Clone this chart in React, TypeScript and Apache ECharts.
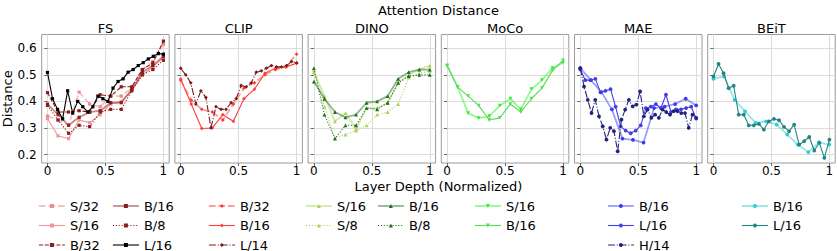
import React, { useEffect, useRef } from 'react';
import * as echarts from 'echarts';

// ---------- data ----------
const panelTitles = ['FS', 'CLIP', 'DINO', 'MoCo', 'MAE', 'BEiT'];
const xTicks = [0, 0.5, 1];
const yTicks = [0.2, 0.3, 0.4, 0.5, 0.6];

const fsS32 = [0.345, 0.33, 0.31, 0.435, 0.39, 0.38, 0.42, 0.42, 0.45, 0.52, 0.55, 0.615];
const fsS16 = [0.335, 0.27, 0.26, 0.33, 0.32, 0.35, 0.39, 0.40, 0.44, 0.50, 0.53, 0.565];
const fsB32 = [0.433, 0.36, 0.36, 0.365, 0.36, 0.425, 0.42, 0.455, 0.455, 0.52, 0.545, 0.627];
const fsB16 = [0.39, 0.35, 0.31, 0.34, 0.36, 0.365, 0.395, 0.395, 0.445, 0.51, 0.535, 0.57];
const fsB8 = [0.385, 0.33, 0.28, 0.31, 0.305, 0.36, 0.37, 0.37, 0.44, 0.50, 0.52, 0.555];
const fsL16 = [0.509, 0.41, 0.37, 0.334, 0.44, 0.356, 0.40, 0.38, 0.36, 0.38, 0.42, 0.41, 0.40, 0.45, 0.475, 0.485, 0.51, 0.52, 0.535, 0.546, 0.56, 0.57, 0.58, 0.578];

const clipB32 = [0.48, 0.405, 0.37, 0.36, 0.33, 0.39, 0.45, 0.47, 0.50, 0.52, 0.53, 0.578];
const clipB16 = [0.484, 0.39, 0.298, 0.30, 0.35, 0.325, 0.41, 0.446, 0.506, 0.525, 0.53, 0.544];
const clipL14 = [0.525, 0.50, 0.47, 0.39, 0.44, 0.415, 0.30, 0.38, 0.37, 0.37, 0.395, 0.41, 0.46, 0.455, 0.47, 0.51, 0.515, 0.525, 0.535, 0.53, 0.53, 0.535, 0.55, 0.545];

const dinoS16 = [0.51, 0.42, 0.325, 0.356, 0.296, 0.375, 0.375, 0.394, 0.47, 0.50, 0.52, 0.535];
const dinoS8 = [0.52, 0.38, 0.262, 0.275, 0.29, 0.31, 0.35, 0.36, 0.39, 0.49, 0.505, 0.515];
const dinoB16 = [0.475, 0.41, 0.36, 0.34, 0.35, 0.395, 0.40, 0.42, 0.485, 0.51, 0.52, 0.52];
const dinoB8 = [0.525, 0.35, 0.26, 0.31, 0.31, 0.375, 0.37, 0.395, 0.47, 0.495, 0.50, 0.50];

const mocoS16 = [0.535, 0.454, 0.356, 0.337, 0.344, 0.384, 0.41, 0.37, 0.446, 0.48, 0.525, 0.546];
const mocoB16 = [0.535, 0.454, 0.42, 0.384, 0.33, 0.338, 0.39, 0.36, 0.41, 0.45, 0.516, 0.554];

const maeB16 = [0.525, 0.48, 0.435, 0.37, 0.26, 0.255, 0.245, 0.375, 0.38, 0.39, 0.41, 0.385];
const maeL16 = [0.52, 0.48, 0.48, 0.485, 0.434, 0.44, 0.446, 0.38, 0.306, 0.29, 0.28, 0.29, 0.31, 0.375, 0.38, 0.39, 0.375, 0.425, 0.36, 0.37, 0.37, 0.375, 0.38, 0.335];
const maeH14 = [0.525, 0.456, 0.406, 0.356, 0.406, 0.344, 0.306, 0.256, 0.30, 0.288, 0.212, 0.331, 0.369, 0.406, 0.381, 0.388, 0.4375, 0.344, 0.369, 0.338, 0.35, 0.338, 0.369, 0.36, 0.35, 0.363, 0.363, 0.356, 0.356, 0.30, 0.35, 0.338];

const beitB16 = [0.485, 0.494, 0.406, 0.3625, 0.319, 0.325, 0.3125, 0.275, 0.2375, 0.209, 0.246, 0.2375];
const beitL16 = [0.494, 0.541, 0.506, 0.45, 0.459, 0.35, 0.35, 0.31, 0.31, 0.315, 0.294, 0.325, 0.334, 0.329, 0.304, 0.2875, 0.3125, 0.2375, 0.25, 0.266, 0.215, 0.244, 0.1875, 0.256];

// ---------- styles ----------
type Dash = 'solid' | 'dashed' | 'dotted' | 'dashdot';
type SeriesDef = {
  panel: number; label: string; data: number[]; color: string; dash: Dash;
  alpha?: boolean; symbol: string; rotate?: number;
};

const seriesDefs: SeriesDef[] = [
  { panel: 0, label: 'S/32', data: fsS32, color: '#f08a8a', dash: 'dashed', alpha: true, symbol: 'rect' },
  { panel: 0, label: 'S/16', data: fsS16, color: '#f49494', dash: 'solid', symbol: 'rect' },
  { panel: 0, label: 'B/32', data: fsB32, color: '#8e1b1b', dash: 'dashed', symbol: 'rect' },
  { panel: 0, label: 'B/16', data: fsB16, color: '#8e1b1b', dash: 'solid', alpha: true, symbol: 'rect' },
  { panel: 0, label: 'B/8', data: fsB8, color: '#8e1b1b', dash: 'dotted', symbol: 'rect' },
  { panel: 0, label: 'L/16', data: fsL16, color: '#000000', dash: 'solid', symbol: 'rect' },

  { panel: 1, label: 'B/32', data: clipB32, color: '#ff3a3a', dash: 'dashed', alpha: true, symbol: 'diamond' },
  { panel: 1, label: 'B/16', data: clipB16, color: '#ff3f3f', dash: 'solid', symbol: 'diamond' },
  { panel: 1, label: 'L/14', data: clipL14, color: '#7a1c1c', dash: 'dashdot', symbol: 'diamond' },

  { panel: 2, label: 'S/16', data: dinoS16, color: '#a8d45a', dash: 'solid', alpha: true, symbol: 'triangle' },
  { panel: 2, label: 'S/8', data: dinoS8, color: '#a8d45a', dash: 'dotted', symbol: 'triangle' },
  { panel: 2, label: 'B/16', data: dinoB16, color: '#1f6e1f', dash: 'solid', alpha: true, symbol: 'triangle' },
  { panel: 2, label: 'B/8', data: dinoB8, color: '#1f6e1f', dash: 'dotted', symbol: 'triangle' },

  { panel: 3, label: 'S/16', data: mocoS16, color: '#2ef02e', dash: 'solid', alpha: true, symbol: 'triangle', rotate: 180 },
  { panel: 3, label: 'B/16', data: mocoB16, color: '#55dd55', dash: 'solid', symbol: 'triangle', rotate: 180 },

  { panel: 4, label: 'B/16', data: maeB16, color: '#3b3bf5', dash: 'solid', alpha: true, symbol: 'circle' },
  { panel: 4, label: 'L/16', data: maeL16, color: '#4040e6', dash: 'solid', symbol: 'circle' },
  { panel: 4, label: 'H/14', data: maeH14, color: '#23237e', dash: 'dashdot', symbol: 'circle' },

  { panel: 5, label: 'B/16', data: beitB16, color: '#33cccc', dash: 'solid', alpha: true, symbol: 'circle' },
  { panel: 5, label: 'L/16', data: beitL16, color: '#1f8585', dash: 'solid', symbol: 'circle' },
];

const legendColumns = [
  { left: 38, items: ['FS|S/32', 'FS|S/16', 'FS|B/32'] },
  { left: 112, items: ['FS|B/16', 'FS|B/8', 'FS|L/16'] },
  { left: 208, items: ['CLIP|B/32', 'CLIP|B/16', 'CLIP|L/14'] },
  { left: 305, items: ['DINO|S/16', 'DINO|S/8'] },
  { left: 377, items: ['DINO|B/16', 'DINO|B/8'] },
  { left: 474, items: ['MoCo|S/16', 'MoCo|B/16'] },
  { left: 607, items: ['MAE|B/16', 'MAE|L/16', 'MAE|H/14'] },
  { left: 741, items: ['BEiT|B/16', 'BEiT|L/16'] },
];

const FONT = 'DejaVu Sans';
const GRID_LEFT0 = 41.7;
const GRID_STEP = 133.2;
const GRID_W = 127.5;
const GRID_TOP = 34.5;
const GRID_H = 128.5;

function dashFor(d: Dash, w: number): any {
  if (d === 'dashed') return [3.7 * w, 1.6 * w];
  if (d === 'dotted') return [1 * w, 1.65 * w];
  if (d === 'dashdot') return [6.4 * w, 1.6 * w, 1 * w, 1.6 * w];
  return 'solid';
}

function lineStyleFor(s: SeriesDef) {
  const w = s.alpha ? 1.8 : 1.1;
  return {
    color: s.color,
    width: w,
    type: dashFor(s.dash, w),
    opacity: s.alpha ? 0.5 : 1,
  };
}

function buildOption() {
  const grids = panelTitles.map((_, i) => ({
    left: GRID_LEFT0 + i * GRID_STEP,
    top: GRID_TOP,
    width: GRID_W,
    height: GRID_H,
    show: true,
    borderColor: '#9a9a9a',
    borderWidth: 1,
    backgroundColor: 'transparent',
  }));

  const xAxes = panelTitles.map((_, i) => ({
    type: 'value',
    gridIndex: i,
    min: -0.05,
    max: 1.05,
    axisLine: { show: false },
    axisTick: { show: true, customValues: xTicks, length: 3, lineStyle: { color: '#666' } },
    axisLabel: {
      show: true,
      customValues: xTicks,
      formatter: (v: number) => String(v),
      fontSize: 12,
      fontFamily: FONT,
      color: '#000',
      margin: 1.5,
      lineHeight: 13,
    },
    splitLine: { show: true, lineStyle: { color: '#dcdcdc', width: 1 } },
  }));

  const yAxes = panelTitles.map((_, i) => ({
    type: 'value',
    gridIndex: i,
    min: 0.168,
    max: 0.652,
    axisLine: { show: false },
    axisTick: { show: true, customValues: yTicks, length: 3, lineStyle: { color: '#666' } },
    axisLabel: {
      show: i === 0,
      customValues: yTicks,
      formatter: (v: number) => v.toFixed(1),
      fontSize: 12,
      fontFamily: FONT,
      color: '#000',
      margin: 5,
    },
    splitLine: { show: true, lineStyle: { color: '#dcdcdc', width: 1 } },
  }));

  const series = seriesDefs.map((s, idx) => {
    const n = s.data.length;
    return {
      type: 'line',
      name: `${panelTitles[s.panel]}|${s.label}`,
      xAxisIndex: s.panel,
      yAxisIndex: s.panel,
      data: s.data.map((v, k) => [k / (n - 1), v]),
      symbol: s.symbol,
      symbolSize: s.symbol === 'rect' ? 3.2 : 3.8,
      symbolRotate: s.rotate || 0,
      showSymbol: true,
      lineStyle: lineStyleFor(s),
      itemStyle: { color: s.color, opacity: 1 },
      emphasis: { disabled: true },
      silent: true,
      z: 2 + idx * 0.01,
    };
  });

  const defByName: Record<string, SeriesDef> = {};
  seriesDefs.forEach((s) => { defByName[`${panelTitles[s.panel]}|${s.label}`] = s; });

  const legends = legendColumns.map((col) => ({
    orient: 'vertical',
    left: col.left,
    top: 199,
    height: 70,
    padding: 0,
    itemGap: 5.5,
    itemWidth: 26,
    itemHeight: 5,
    selectedMode: false,
    textStyle: { fontSize: 13, fontFamily: FONT, color: '#000', lineHeight: 14 },
    formatter: (name: string) => name.split('|')[1],
    data: col.items.map((name) => {
      const s = defByName[name];
      return {
        name,
        lineStyle: lineStyleFor(s),
        itemStyle: { color: s.color },
      };
    }),
  }));

  const textStyle = (txt: string, x: number, y: number, extra: any = {}) => ({
    type: 'text',
    x,
    y,
    silent: true,
    ...extra,
    style: {
      text: txt,
      fontSize: 13,
      fontFamily: FONT,
      fill: '#000',
      align: 'center',
      verticalAlign: 'middle',
      textAlign: 'center',
      textVerticalAlign: 'middle',
    },
  });

  const centerX = GRID_LEFT0 + (GRID_STEP * 5 + GRID_W) / 2;
  const graphics: any[] = [
    textStyle('Attention Distance', centerX, 10.5),
    textStyle('Layer Depth (Normalized)', centerX, 186),
    textStyle('Distance', 7.5, GRID_TOP + GRID_H / 2, { rotation: Math.PI / 2 }),
    ...panelTitles.map((t, i) => textStyle(t, GRID_LEFT0 + i * GRID_STEP + GRID_W / 2, 28)),
  ];

  return {
    animation: false,
    backgroundColor: '#ffffff',
    grid: grids,
    xAxis: xAxes,
    yAxis: yAxes,
    series,
    legend: legends,
    graphic: graphics,
  };
}

export default function App() {
  const ref = useRef<HTMLDivElement>(null);
  useEffect(() => {
    if (!ref.current) return;
    const chart = echarts.init(ref.current, undefined, { renderer: 'svg' });
    chart.setOption(buildOption() as any);
    return () => chart.dispose();
  }, []);
  return (
    <div
      ref={ref}
      style={{ position: 'absolute', left: 0, top: 0, width: 837, height: 251 }}
    />
  );
}
